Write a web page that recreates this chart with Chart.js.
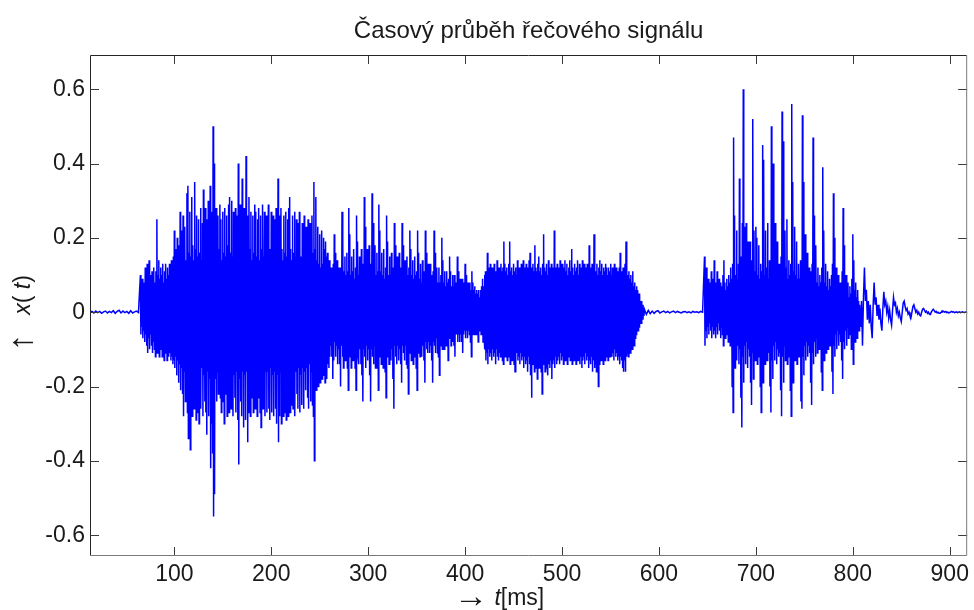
<!DOCTYPE html>
<html>
<head>
<meta charset="utf-8">
<script src="https://cdn.jsdelivr.net/npm/chart.js@4.4.0/dist/chart.umd.min.js"></script>
<style>
  html, body { margin: 0; padding: 0; background: #fff; }
</style>
</head>
<body>
<canvas id="signal" width="974" height="610"></canvas>
<script>
// amplitudes are written in hundredths
const UNIT = 0.01;

const xTicks = [100, 200, 300, 400, 500, 600, 700, 800, 900];
const yTicks = [-0.6, -0.4, -0.2, 0, 0.2, 0.4, 0.6];

// silence before the utterance, one sample every 2 ms from t = 13 ms
const leadStart = 13;
const lead = [0, 0.2, -0.2, 0.3, -0.1, 0.2, -0.3, 0.1, 0.3, -0.2, 0.2, -0.1, 0.4, -0.3, 0.2, 0.5,
  -0.2, 0.3, -0.1, 0.2, -0.3, 0.4, -0.2, 0.1, 0.3, -0.1];

// first burst (65..261 ms): positive and negative peak per ms
const segAStart = 65;
const segAHigh = [
  10, 7, 9, 6, 8, 12, 9, 13, 8, 14,
  10, 8, 11, 9, 12, 8, 11, 25, 10, 14,
  9, 12, 10, 13, 8, 11, 13, 9, 12, 10,
  13, 11, 14, 12, 15, 22, 12, 17, 20, 13,
  18, 27, 14, 22, 26, 15, 23, 14, 32, 34,
  16, 27, 15, 31, 18, 14, 35, 17, 26, 15,
  25, 16, 28, 14, 24, 33, 15, 28, 16, 25,
  30, 15, 34, 18, 27, 50, 40, 16, 28, 15,
  26, 17, 29, 25, 14, 27, 16, 28, 15, 26,
  18, 29, 31, 16, 30, 15, 27, 18, 28, 14,
  26, 40, 17, 29, 15, 36, 18, 28, 16, 42,
  26, 15, 31, 17, 27, 14, 26, 16, 29, 27,
  15, 25, 28, 14, 26, 17, 29, 15, 27, 16,
  26, 14, 29, 17, 15, 27, 16, 26, 14, 25,
  28, 16, 36, 26, 15, 28, 17, 14, 26, 16,
  27, 15, 25, 28, 31, 17, 14, 26, 16, 27,
  15, 25, 14, 24, 27, 15, 13, 24, 14, 26,
  14, 23, 13, 25, 15, 24, 14, 26, 16, 35,
  17, 31, 14, 23, 13, 21, 12, 22, 13, 20,
  17, 19, 15, 16, 12, 14, 10];
const segALow = [
  -6, -4, -7, -5, -8, -6, -9, -11, -7, -10,
  -6, -9, -11, -8, -10, -12, -9, -11, -8, -12,
  -10, -9, -12, -10, -13, -9, -11, -13, -10, -12,
  -11, -13, -12, -14, -13, -15, -12, -17, -13, -19,
  -14, -21, -15, -22, -28, -16, -24, -15, -27, -34,
  -18, -37, -17, -28, -16, -26, -17, -29, -16, -27,
  -30, -16, -26, -15, -28, -17, -24, -27, -33, -16,
  -28, -18, -42, -30, -38, -55, -49, -18, -24, -16,
  -22, -17, -23, -27, -15, -24, -30, -16, -22, -28,
  -16, -27, -17, -26, -15, -28, -17, -23, -27, -16,
  -29, -41, -18, -24, -28, -16, -31, -17, -29, -16,
  -35, -27, -16, -28, -17, -23, -27, -15, -26, -17,
  -28, -16, -23, -27, -31, -15, -26, -17, -28, -16,
  -27, -16, -26, -29, -15, -27, -17, -28, -16, -26,
  -30, -17, -35, -28, -16, -30, -17, -28, -16, -27,
  -29, -16, -28, -17, -27, -25, -15, -26, -17, -28,
  -16, -22, -26, -15, -27, -17, -25, -15, -26, -16,
  -21, -15, -23, -26, -14, -24, -16, -25, -28, -40,
  -16, -21, -14, -20, -15, -19, -13, -18, -14, -17,
  -19, -16, -18, -14, -15, -12, -9];

// voiced part with pitch pulses (262..418 ms)
const segBStart = 262;
const segBHigh = [
  12, 9, 13, 21, 16, 10, 14, 9, 12, 10,
  12, 27, 20, 11, 15, 10, 16, 11, 28, 21,
  10, 15, 11, 17, 9, 12, 26, 19, 10, 15,
  11, 17, 9, 13, 31, 23, 11, 17, 10, 18,
  11, 13, 32, 24, 12, 18, 10, 16, 11, 29,
  22, 11, 16, 10, 17, 9, 12, 26, 19, 10,
  15, 10, 16, 9, 12, 24, 18, 11, 15, 9,
  16, 10, 12, 24, 18, 10, 14, 9, 15, 10,
  12, 22, 17, 10, 14, 9, 15, 10, 11, 22,
  16, 9, 13, 8, 14, 9, 11, 22, 16, 9,
  13, 8, 13, 9, 10, 11, 22, 16, 9, 12,
  8, 12, 8, 10, 20, 14, 8, 11, 7, 11,
  8, 9, 15, 11, 7, 10, 7, 10, 7, 8,
  15, 11, 7, 9, 6, 9, 6, 8, 13, 10,
  6, 8, 5, 8, 6, 11, 8, 6, 7, 5,
  6, 5, 6, 4, 6, 7, 9];
const segBLow = [
  -12, -18, -13, -8, -12, -9, -14, -10, -14, -20,
  -9, -12, -15, -10, -13, -9, -15, -21, -10, -12,
  -15, -9, -13, -10, -15, -21, -9, -12, -14, -10,
  -14, -17, -24, -10, -12, -15, -9, -13, -10, -17,
  -24, -10, -12, -14, -9, -15, -10, -15, -21, -9,
  -12, -14, -10, -15, -9, -16, -23, -10, -12, -14,
  -9, -13, -10, -18, -26, -9, -12, -14, -9, -13,
  -10, -14, -19, -9, -11, -13, -9, -14, -15, -22,
  -9, -11, -13, -9, -14, -10, -12, -15, -21, -9,
  -11, -12, -8, -12, -9, -13, -19, -8, -10, -11,
  -8, -11, -9, -13, -19, -8, -9, -11, -7, -11,
  -12, -17, -8, -9, -10, -7, -10, -7, -9, -9,
  -13, -7, -6, -9, -6, -8, -9, -12, -6, -6,
  -8, -6, -8, -6, -8, -11, -6, -5, -7, -5,
  -7, -5, -6, -8, -12, -6, -5, -6, -5, -6,
  -6, -8, -5, -4, -6, -5, -8];

// second dense burst (419..584 ms)
const segCStart = 419;
const segCHigh = [
  7, 10, 11, 9, 16, 12, 10, 13, 9, 12,
  10, 13, 11, 9, 14, 11, 12, 10, 13, 11,
  12, 19, 13, 11, 12, 10, 13, 19, 11, 12,
  10, 13, 11, 12, 10, 14, 11, 12, 10, 13,
  11, 14, 12, 10, 13, 11, 12, 14, 16, 11,
  12, 13, 11, 18, 12, 11, 13, 15, 11, 12,
  10, 13, 21, 12, 11, 13, 10, 14, 12, 11,
  13, 12, 10, 22, 12, 11, 13, 10, 12, 14,
  11, 13, 10, 12, 14, 11, 13, 10, 12, 14,
  11, 17, 12, 10, 13, 11, 12, 14, 10, 13,
  11, 12, 14, 11, 13, 12, 10, 13, 11, 18,
  12, 11, 13, 10, 21, 12, 11, 13, 10, 12,
  14, 11, 13, 10, 12, 11, 13, 12, 10, 12,
  11, 13, 10, 12, 11, 13, 10, 12, 11, 10,
  12, 16, 11, 10, 12, 11, 13, 19, 12, 10,
  11, 9, 10, 8, 11, 7, 8, 6, 7, 6,
  5, 5, 3, 3, 2, 1];
const segCLow = [
  -6, -10, -13, -11, -14, -10, -12, -11, -13, -10,
  -12, -11, -14, -10, -12, -13, -11, -12, -10, -13,
  -14, -11, -12, -10, -13, -11, -12, -14, -11, -13,
  -12, -14, -16, -12, -11, -13, -12, -14, -11, -13,
  -12, -15, -12, -14, -13, -16, -12, -14, -17, -23,
  -14, -13, -16, -12, -15, -18, -13, -15, -14, -16,
  -22, -14, -13, -16, -15, -13, -17, -14, -15, -13,
  -18, -14, -13, -15, -12, -14, -13, -12, -14, -11,
  -13, -12, -14, -11, -13, -12, -14, -11, -12, -13,
  -11, -14, -12, -13, -11, -14, -12, -13, -11, -14,
  -12, -15, -13, -12, -14, -11, -13, -12, -15, -13,
  -14, -12, -16, -13, -15, -14, -16, -13, -20, -14,
  -12, -13, -11, -14, -12, -13, -11, -12, -13, -11,
  -12, -10, -12, -11, -13, -10, -12, -11, -13, -12,
  -14, -12, -13, -15, -16, -13, -16, -12, -11, -12,
  -10, -11, -9, -10, -8, -9, -7, -6, -5, -5,
  -4, -3, -3, -2, -2, -1];

// pause, one sample every 2 ms from t = 585 ms
const pauseStart = 585;
const pause = [0.8, -0.6, 0.5, -0.4, 0.3, -0.3, 0.2, 0.4, -0.2, 0.1, 0.3, -0.1, 0.2, -0.2, 0.1, 0.3,
  -0.1, 0.2, 0, -0.2, 0.1, 0.2, -0.1, 0.1, -0.2, 0.2, 0, 0.1, -0.1, 0.2, 0];

// last syllable (647..806 ms)
const segDStart = 647;
const segDHigh = [
  15, 8, 12, 7, 9, 6, 8, 11, 7, 9,
  14, 6, 8, 11, 7, 9, 6, 8, 7, 10,
  14, 8, 6, 9, 7, 10, 8, 12, 9, 13,
  47, 26, 10, 22, 9, 13, 36, 11, 15, 24,
  60, 23, 12, 24, 9, 19, 11, 19, 8, 14,
  52, 22, 11, 23, 20, 10, 18, 9, 13, 11,
  45, 41, 10, 22, 12, 24, 9, 14, 11, 50,
  22, 40, 11, 24, 10, 19, 9, 13, 10, 15,
  54, 46, 10, 22, 12, 25, 9, 14, 10, 13,
  56, 35, 11, 23, 10, 19, 9, 13, 9, 14,
  12, 53, 35, 10, 21, 9, 16, 8, 12, 9,
  11, 13, 47, 26, 9, 18, 8, 12, 7, 10,
  8, 12, 39, 22, 8, 13, 7, 11, 6, 9,
  7, 10, 13, 32, 20, 8, 12, 6, 10, 5,
  8, 6, 11, 28, 18, 7, 10, 5, 8, 4,
  7, 5, 9, 21, 14, 6, 8, 4, 6, 3];
const segDLow = [
  -9, -5, -7, -4, -6, -3, -5, -7, -4, -6,
  -5, -7, -4, -6, -3, -5, -7, -4, -6, -9,
  -5, -7, -4, -6, -8, -5, -9, -7, -20, -27,
  -10, -15, -8, -13, -9, -14, -10, -23, -31, -12,
  -19, -9, -14, -8, -15, -10, -12, -19, -25, -11,
  -18, -9, -13, -8, -14, -10, -12, -20, -27, -12,
  -19, -9, -14, -8, -13, -10, -11, -20, -27, -13,
  -18, -9, -13, -8, -14, -10, -12, -11, -21, -28,
  -12, -19, -9, -13, -8, -14, -10, -12, -21, -28,
  -13, -19, -9, -13, -8, -14, -10, -12, -11, -24,
  -26, -12, -17, -9, -13, -8, -12, -9, -11, -19,
  -25, -11, -14, -8, -12, -7, -11, -8, -10, -9,
  -16, -21, -10, -13, -7, -11, -6, -10, -7, -9,
  -8, -16, -22, -9, -12, -6, -10, -5, -9, -6,
  -8, -13, -18, -8, -10, -5, -9, -4, -7, -5,
  -6, -10, -10, -14, -6, -8, -4, -7, -3, -5];

// decaying ring-out, one sample per ms from t = 807 ms
const tailStart = 807;
const tail = [
  2, -4, 3, -9, 4, 12, 3, 6, -2, 3,
  -3, 2, -4, -7, 2, 8, 2, 4, -1, 2,
  -2, 1, -3, -5, 1, 5.5, 2, 3, 0, 1.5,
  -1.5, 0.5, -2, -3.5, 0.5, 4, 2, 2.5, 0, 1,
  -1, 0, -1.5, -2.5, 0, 2.5, 3, 1.5, 0.5, 1,
  -0.5, 0, -1, -1.5, 0, 1.5, 2, 1, 0, 0.5,
  -0.5, 0, -0.8, -1, 0, 0.8, 1, 0.5, 0, 0.3,
  -0.3, 0, -0.5, -0.6, 0, 0.5, 0.8, 0.4, 0, 0.2,
  -0.2, 0, -0.3, -0.3, 0, 0.3, 0.3, 0.1, 0, 0.2,
  -0.1, 0, -0.2, -0.1, 0.1, 0.2, 0, 0.1, -0.1, 0,
  0.1, -0.1, 0, 0.1, -0.1, 0, 0.1, 0, -0.1, 0,
  0.1, 0];

const FONT = '"Liberation Sans", Arial, Helvetica, sans-serif';
const INK = '#1a1a1a';

function addSmooth(points, start, step, values) {
    values.forEach((v, i) => points.push({ x: start + i * step, y: v * UNIT }));
}

function addDense(points, start, highs, lows) {
    highs.forEach((h, i) => {
        points.push({ x: start + i, y: h * UNIT });
        points.push({ x: start + i + 0.5, y: lows[i] * UNIT });
    });
}

const points = [];
addSmooth(points, leadStart, 2, lead);
addDense(points, segAStart, segAHigh, segALow);
addDense(points, segBStart, segBHigh, segBLow);
addDense(points, segCStart, segCHigh, segCLow);
addSmooth(points, pauseStart, 2, pause);
addDense(points, segDStart, segDHigh, segDLow);
addSmooth(points, tailStart, 1, tail);

function partFont(p, size) {
    return (p.italic ? "italic " : "") + (p.size || size) + "px " + FONT;
}

// draws text pieces one after another along the baseline
function drawRich(ctx, parts, x, y, size) {
    parts.forEach((p) => {
        ctx.font = partFont(p, size);
        ctx.fillText(p.text, x, y + (p.dy || 0));
        x += ctx.measureText(p.text).width;
    });
}

function richWidth(ctx, parts, size) {
    return parts.reduce((w, p) => {
        ctx.font = partFont(p, size);
        return w + ctx.measureText(p.text).width;
    }, 0);
}

// MATLAB style box with inward ticks, title and axis labels
const framePlugin = {
    id: "frame",
    afterDraw(chart) {
        const { ctx, chartArea: a, scales } = chart;
        const tick = 9;
        ctx.save();
        ctx.lineWidth = 1;

        ctx.strokeStyle = "#3a3a3a";
        ctx.beginPath();
        xTicks.forEach((v) => {
            const px = Math.round(scales.x.getPixelForValue(v)) + 0.5;
            ctx.moveTo(px, a.bottom); ctx.lineTo(px, a.bottom - tick);
            ctx.moveTo(px, a.top); ctx.lineTo(px, a.top + tick);
        });
        yTicks.forEach((v) => {
            const py = Math.round(scales.y.getPixelForValue(v)) + 0.5;
            ctx.moveTo(a.left, py); ctx.lineTo(a.left + tick, py);
            ctx.moveTo(a.right, py); ctx.lineTo(a.right - tick, py);
        });
        ctx.stroke();

        const l = a.left + 0.5, r = a.right - 0.5, t = a.top + 0.5, b = a.bottom - 0.5;
        ctx.strokeStyle = "#262626";
        ctx.beginPath();
        ctx.moveTo(l, b); ctx.lineTo(l, t); ctx.lineTo(r, t);
        ctx.stroke();
        ctx.strokeStyle = "#7a7a7a";
        ctx.beginPath();
        ctx.moveTo(r, t); ctx.lineTo(r, b); ctx.lineTo(l, b);
        ctx.stroke();

        ctx.fillStyle = INK;
        ctx.textBaseline = "alphabetic";
        ctx.textAlign = "center";
        ctx.font = "24px " + FONT;
        ctx.fillText("Časový průběh řečového signálu", (a.left + a.right) / 2, 38);

        ctx.textAlign = "left";
        const xTitle = [
            { text: "\u2192", size: 34, dy: 2 },
            { text: " " },
            { text: "t", italic: true },
            { text: "[ms]" },
        ];
        drawRich(ctx, xTitle, 454, 605, 23);

        const yTitle = [
            { text: "\u2191", size: 34, dy: 2 },
            { text: "   " },
            { text: "x", italic: true },
            { text: "( " },
            { text: "t", italic: true },
            { text: ")" },
        ];
        const w = richWidth(ctx, yTitle, 23);
        ctx.translate(30, 313);
        ctx.rotate(-Math.PI / 2);
        drawRich(ctx, yTitle, -w / 2, 0, 23);
        ctx.restore();
    },
};

new Chart(document.getElementById("signal"), {
    type: "line",
    data: {
        datasets: [
            {
                data: points,
                borderColor: "#0000ff",
                borderWidth: 1.5,
                pointRadius: 0,
                tension: 0,
                fill: false,
            },
        ],
    },
    options: {
        responsive: false,
        animation: false,
        parsing: false,
        normalized: true,
        events: [],
        layout: { padding: { top: 55, right: 4, left: 0, bottom: 0 } },
        plugins: {
            legend: { display: false },
            title: { display: false },
            tooltip: { enabled: false },
        },
        scales: {
            x: {
                type: "linear",
                min: 13,
                max: 918,
                grid: { display: false, drawTicks: false },
                border: { display: false },
                afterBuildTicks: (scale) => { scale.ticks = xTicks.map((value) => ({ value })); },
                afterFit: (scale) => { scale.height = 54; },
                ticks: {
                    autoSkip: false,
                    maxRotation: 0,
                    padding: 5,
                    color: INK,
                    font: { family: FONT, size: 23 },
                },
            },
            y: {
                type: "linear",
                min: -0.656,
                max: 0.692,
                grid: { display: false, drawTicks: false },
                border: { display: false },
                afterBuildTicks: (scale) => { scale.ticks = yTicks.map((value) => ({ value })); },
                afterFit: (scale) => { scale.width = 90; },
                ticks: {
                    padding: 5,
                    color: INK,
                    font: { family: FONT, size: 23 },
                    callback: (v) => String(Math.round(v * 10) / 10),
                },
            },
        },
    },
    plugins: [framePlugin],
});
</script>
</body>
</html>
